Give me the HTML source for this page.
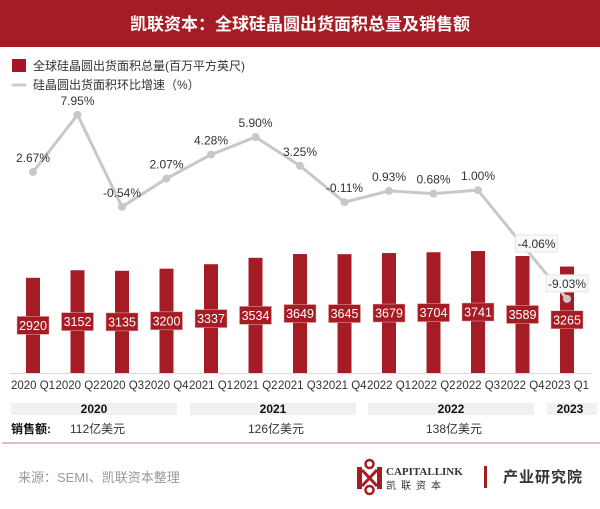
<!DOCTYPE html>
<html><head><meta charset="utf-8"><style>
body{margin:0;width:600px;height:504px;background:#fff;overflow:hidden;font-family:"Liberation Sans","Noto Sans CJK SC",sans-serif;}
</style></head><body>
<svg width="600" height="504" xmlns="http://www.w3.org/2000/svg" font-family="Liberation Sans, Noto Sans CJK SC, sans-serif">
<rect x="0" y="0" width="600" height="47" fill="#a51c24"/>
<text x="300" y="30" text-anchor="middle" fill="#fff" font-size="17" font-weight="bold">凯联资本：全球硅晶圆出货面积总量及销售额</text>
<rect x="12" y="59" width="14" height="13" fill="#a8142a"/>
<text x="33" y="70" font-size="12" fill="#333">全球硅晶圆出货面积总量(百万平方英尺)</text>
<line x1="13" y1="85" x2="25" y2="85" stroke="#ccc" stroke-width="3" stroke-linecap="round"/>
<text x="33" y="89" font-size="12" fill="#333">硅晶圆出货面积环比增速（%）</text>
<line x1="10" y1="373.5" x2="592" y2="373.5" stroke="#d9d9d9"/>
<g id="bars"></g>
<g id="line"></g>
<g font-size="11.5" fill="#333" text-anchor="middle" id="xl"></g>
<rect x="11" y="403" width="166" height="12" fill="#f0f0f0"/>
<rect x="190" y="403" width="166" height="12" fill="#f0f0f0"/>
<rect x="368" y="403" width="166" height="12" fill="#f0f0f0"/>
<rect x="547" y="403" width="50" height="12" fill="#f0f0f0"/>
<g font-size="12" font-weight="bold" fill="#111" text-anchor="middle">
<text x="94" y="413">2020</text><text x="273" y="413">2021</text><text x="451" y="413">2022</text><text x="570" y="413">2023</text></g>
<text x="11" y="433" font-size="12" font-weight="bold" fill="#111">销售额:</text>
<g font-size="12" fill="#333"><text x="70" y="433">112亿美元</text><text x="248" y="433">126亿美元</text><text x="426" y="433">138亿美元</text></g>
<line x1="2" y1="443" x2="600" y2="443" stroke="#d9a5a5" stroke-width="1.5"/>
<text x="18" y="482" font-size="13" fill="#999">来源：SEMI、凯联资本整理</text>
<g fill="#a51c24">
<rect x="357" y="467" width="5" height="22"/><rect x="377" y="467" width="5" height="22"/>
<circle cx="369.5" cy="464" r="4" fill="none" stroke="#a51c24" stroke-width="2.5"/>
<circle cx="369.5" cy="490" r="4" fill="none" stroke="#a51c24" stroke-width="2.5"/>
<path d="M362 470 L377 486 M377 470 L362 486" stroke="#a51c24" stroke-width="3"/>
</g>
<text x="386" y="475" font-size="11" font-weight="bold" fill="#333" font-family="Liberation Serif, serif">CAPITALLINK</text>
<text x="386" y="489" font-size="10" fill="#333" letter-spacing="5">凯联资本</text>
<rect x="484" y="466" width="3" height="22" fill="#a51c24"/>
<text x="503" y="482" font-size="15" font-weight="bold" fill="#333" letter-spacing="1">产业研究院</text>
</svg>
<script>
const vals=[2920,3152,3135,3200,3337,3534,3649,3645,3679,3704,3741,3589,3265];
const pct=[2.67,7.95,-0.54,2.07,4.28,5.90,3.25,-0.11,0.93,0.68,1.00,-4.06,-9.03];
const xl=["2020 Q1","2020 Q2","2020 Q3","2020 Q4","2021 Q1","2021 Q2","2021 Q3","2021 Q4","2022 Q1","2022 Q2","2022 Q3","2022 Q4","2023 Q1"];
const ns="http://www.w3.org/2000/svg";
function el(p,t,a,txt){const e=document.createElementNS(ns,t);for(const k in a)e.setAttribute(k,a[k]);if(txt)e.textContent=txt;p.appendChild(e);return e;}
const B=document.getElementById('bars'),L=document.getElementById('line'),X=document.getElementById('xl');
let pts=[];
vals.forEach((v,i)=>{const cx=33+44.5*i,h=v*0.0326,top=373-h;
el(B,'rect',{x:cx-7,y:top,width:14,height:h,fill:'#a51c24'});
const ly=373-h/2;
el(B,'rect',{x:cx-16,y:ly-9,width:32,height:18,fill:'#a51c24',stroke:'#e8b0b0','stroke-width':0.5});
el(B,'text',{x:cx,y:ly+4.5,'text-anchor':'middle','font-size':12.5,fill:'#fff'},String(v));
el(X,'text',{x:cx,y:389},xl[i]);
pts.push([cx,201-pct[i]*10.84]);});
el(L,'polyline',{points:pts.map(p=>p.join(',')).join(' '),fill:'none',stroke:'#c8c8c8','stroke-width':3,'stroke-linejoin':'round'});
pts.forEach((p,i)=>{el(L,'circle',{cx:p[0],cy:p[1],r:4,fill:'#c8c8c8'});
let tx=p[0],ty=p[1]-10;
if(i==11){tx=p[0]+14;ty=p[1]+3;}
if(i==12){tx=p[0];ty=p[1]-11;}
const t=pct[i].toFixed(2)+'%';
if(i>=11)el(L,'rect',{x:tx-21,y:ty-13,width:42,height:17,fill:'#f8f8f8',stroke:'#e6e6e6'});
el(L,'text',{x:tx,y:ty,'text-anchor':'middle','font-size':12,fill:'#333'},t);});
</script>
</body></html>
